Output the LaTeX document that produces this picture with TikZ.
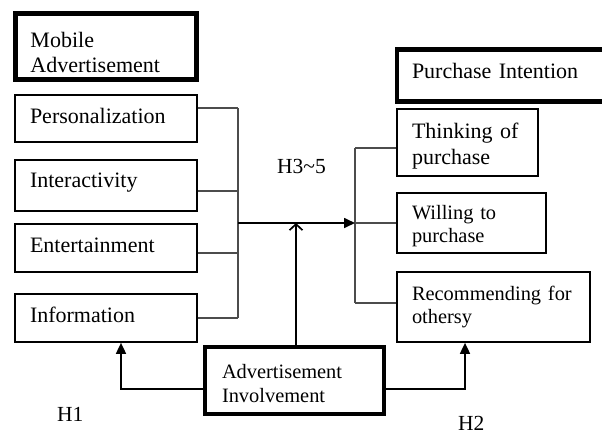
\documentclass[tikz,border=0pt]{standalone}
\usepackage{fontspec}
\setmainfont{Liberation Serif}
\usetikzlibrary{arrows.meta}
\begin{document}
\begin{tikzpicture}[x=1pt,y=-1pt,
  box/.style={draw=black,line width=1.7pt,rectangle,inner ysep=0pt,inner xsep=15pt,align=left,
    font=\fontsize{22}{25.5}\selectfont},
  thickbox/.style={box,line width=4.5pt},
  small/.style={font=\fontsize{20.4}{23.5}\selectfont},
  conn/.style={draw=black!70,line width=1.3pt},
  mainln/.style={draw=black,line width=1.7pt},
  hlab/.style={anchor=base west,inner sep=0pt,font=\fontsize{21.5}{24}\selectfont},
  tri/.style={-{Triangle[length=11pt,width=10pt]}}
]
\useasboundingbox (0,0) rectangle (602,434);

% left boxes
\node[thickbox,minimum width=181pt,minimum height=66pt,text width=151pt] (mob) at (106,46.5) {\rule{0pt}{27pt}Mobile\\Advertisement};
\node[box,minimum width=182pt,minimum height=47pt,text width=152pt,text height=15pt,text depth=6pt] (pers) at (106,118.5) {Personalization};
\node[box,minimum width=182pt,minimum height=51pt,text width=152pt,text height=15pt,text depth=12pt] (inter) at (106,185.5) {Interactivity};
\node[box,minimum width=182pt,minimum height=48pt,text width=152pt,text height=15pt,text depth=7pt] (ent) at (106,248) {Entertainment};
\node[box,minimum width=182pt,minimum height=48pt,text width=152pt,text height=15pt,text depth=7pt] (info) at (106,318) {Information};

% right boxes
\node[thickbox,minimum width=213pt,minimum height=52pt,text width=183pt,text height=15pt,text depth=10pt] (pi) at (503.5,75.5) {Purchase Intention};
\node[box,minimum width=141pt,minimum height=67pt,text width=111pt] (think) at (467.5,142.5) {\rule{0pt}{23pt}Thinking of\\purchase};
\node[box,small,minimum width=149pt,minimum height=60pt,text width=119pt] (will) at (471.5,223) {\rule{0pt}{20pt}Willing to\\purchase};
\node[box,small,minimum width=193pt,minimum height=70pt,text width=163pt] (rec) at (493.5,307) {Recommending for\\othersy};

% involvement
\node[thickbox,small,minimum width=179pt,minimum height=67pt,inner xsep=17pt,text width=145pt] (ai) at (294.5,380.5) {\rule{0pt}{20pt}Advertisement\\Involvement};

% labels
\node[hlab] (h35) at (277,173) {H3\textasciitilde5};
\node[hlab] (h1) at (57,421) {H1};
\node[hlab] (h2) at (458,430) {H2};

% bus coordinates
\coordinate (L1) at (238,108);
\coordinate (L2) at (238,191);
\coordinate (L3) at (238,253);
\coordinate (L4) at (238,318);
\coordinate (LM) at (238,223);
\coordinate (R1) at (355,148);
\coordinate (RM) at (355,223);
\coordinate (R3) at (355,303);
\coordinate (AT) at (296,223);
\coordinate (C1) at (121,389);
\coordinate (C2) at (465,389);

\draw[conn] (pers.east |- L1) -- (L1);
\draw[conn] (inter.east |- L2) -- (L2);
\draw[conn] (ent.east |- L3) -- (L3);
\draw[conn] (info.east |- L4) -- (L4);
\draw[conn] (L1) -- (L4);

\draw[conn] (R1) -- (R3);
\draw[conn] (R1) -- (think.west |- R1);
\draw[conn] (RM) -- (will.west |- RM);
\draw[conn] (R3) -- (rec.west |- R3);

\draw[mainln,tri] (LM) -- (RM);
\draw[mainln,-{Straight Barb[length=6pt,width=13pt]}] (ai.north -| AT) -- (AT);
\draw[mainln,tri] (ai.west |- C1) -- (C1) -- (info.south -| C1);
\draw[mainln,tri] (ai.east |- C2) -- (C2) -- (rec.south -| C2);
\end{tikzpicture}
\end{document}
